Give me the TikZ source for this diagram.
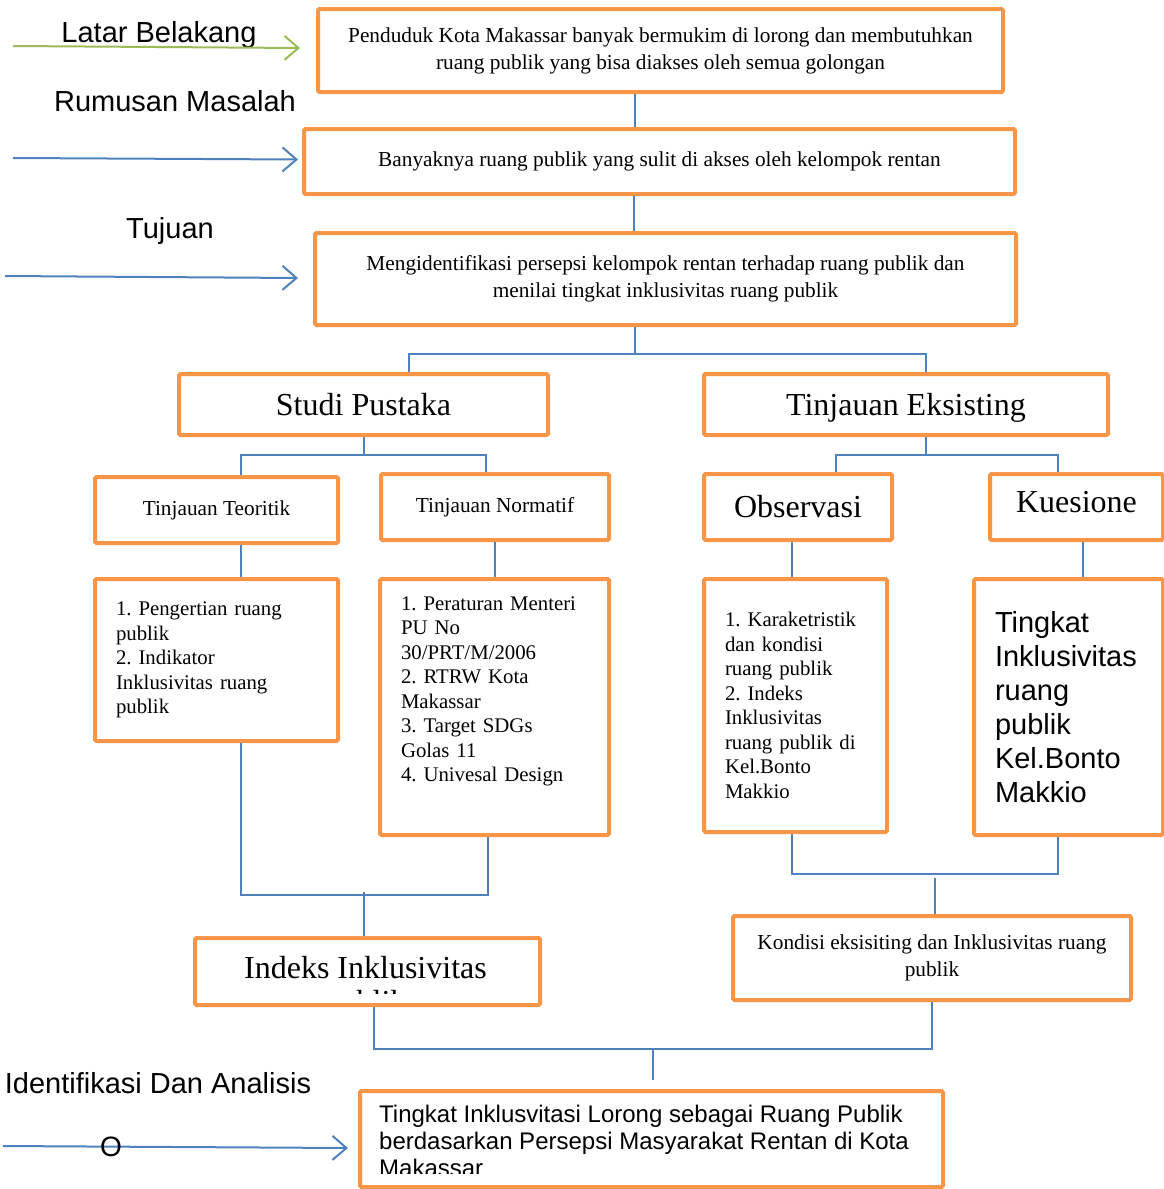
\documentclass[tikz,border=0pt]{standalone}
\usepackage{fontspec}
\setmainfont{Liberation Serif}
\setsansfont{Liberation Sans}
\usepackage{tikz}
\usetikzlibrary{arrows.meta, positioning, calc}
\definecolor{flowOrange}{HTML}{F79646}
\definecolor{flowBlue}{HTML}{4F81BD}
\definecolor{flowGreen}{HTML}{9BBB59}
\frenchspacing

\begin{document}
\begin{tikzpicture}[
  x=1pt, y=-1pt,
  box/.style={draw=flowOrange, line width=4pt, rounded corners=1.5pt, fill=white,
              anchor=north west, inner sep=0pt, align=center},
  txt/.style={font=\fontsize{21.3}{27}\selectfont},
  listtxt/.style={font=\fontsize{20.8}{24.5}\selectfont, align=left},
  big/.style={font=\fontsize{32}{34}\selectfont},
  lbl/.style={font=\sffamily\fontsize{29}{34}\selectfont, inner sep=0pt},
  link/.style={draw=flowBlue, line width=2pt},
  a/.style={-{Straight Barb[length=14pt, width=24pt]}, line width=2pt, draw=flowBlue},
  ga/.style={-{Straight Barb[length=14pt, width=24pt]}, line width=2pt, draw=flowGreen}
]
\useasboundingbox (0,0) rectangle (1163,1189);

% alur utama
\node[box, txt, minimum width=685, minimum height=83] (bg) at (316,7)
  {Penduduk Kota Makassar banyak bermukim di lorong dan membutuhkan\\ruang publik yang bisa diakses oleh semua golongan};
\node[box, txt, minimum width=711, minimum height=65] (rumusan) at (302,127)
  {Banyaknya ruang publik yang sulit di akses oleh kelompok rentan};
\node[box, txt, minimum width=701, minimum height=92] (tujuan) at (313,231)
  {Mengidentifikasi persepsi kelompok rentan terhadap ruang publik dan\\menilai tingkat inklusivitas ruang publik};

\node[box, big, minimum width=369, minimum height=61] (studi) at (177,372) {Studi Pustaka};
\node[box, big, minimum width=404, minimum height=61, text depth=0pt] (eksis) at (702,372) {Tinjauan Eksisting};

\node[box, txt, minimum width=243, minimum height=66] (teori) at (93,475) {Tinjauan Teoritik};
\node[box, txt, minimum width=228, minimum height=66] (norma) at (379,472) {Tinjauan Normatif};
\node[box, big, minimum width=188, minimum height=66] (obs) at (702,472) {Observasi};
\node[box, big, minimum width=173, minimum height=66, text depth=10pt] (kues) at (988,472) {Kuesione};

\node[box, listtxt, minimum width=243, minimum height=162, text width=201] (list1) at (93,577)
  {1. Pengertian ruang\\publik\\2. Indikator\\Inklusivitas ruang\\publik};
\node[box, listtxt, minimum width=229, minimum height=256, text width=187] (list2) at (378,577)
  {1. Peraturan Menteri\\PU No\\30/PRT/M/2006\\2. RTRW Kota\\Makassar\\3. Target SDGs\\Golas 11\\4. Univesal Design\\[11.5pt]\mbox{}};
\node[box, listtxt, minimum width=183, minimum height=253, text width=141] (list3) at (702,577)
  {1. Karaketristik\\dan kondisi\\ruang publik\\2. Indeks\\Inklusivitas\\ruang publik di\\Kel.Bonto\\Makkio};
\node[box, align=left, font=\sffamily\fontsize{29}{34}\selectfont, minimum width=189, minimum height=256, text width=147] (list4) at (972,577)
  {Tingkat\\Inklusivitas\\ruang\\publik\\Kel.Bonto\\Makkio};

\node[box, minimum width=345, minimum height=67] (indeks) at (193,936) {};
\begin{scope}
  \clip (193,936) rectangle (538,993);
  \node[big, anchor=north, align=center, inner sep=0pt] (indekstext) at (365.5,956) {Indeks Inklusivitas\\publik};
\end{scope}
\node[box, txt, minimum width=398, minimum height=84] (kondisi) at (731,914)
  {Kondisi eksisiting dan Inklusivitas ruang\\publik};

\node[box, minimum width=583, minimum height=96] (hasil) at (358,1089) {};
\begin{scope}
  \clip (358,1089) rectangle (941,1173);
  \node[font=\sffamily\fontsize{24}{27}\selectfont, anchor=north west, align=left, inner sep=0pt] (hasiltext) at (379,1105)
    {Tingkat Inklusvitasi Lorong sebagai Ruang Publik\\berdasarkan Persepsi Masyarakat Rentan di Kota\\Makassar};
\end{scope}

% garis penghubung
\draw[link] ([xshift=-26]bg.south) -- ([xshift=-26]bg.south |- rumusan.north);
\draw[link] ([xshift=-26]rumusan.south) -- ([xshift=-26]rumusan.south |- tujuan.north);
\draw[link] ([xshift=-31]tujuan.south) -- ++(0,27) -| ([xshift=45]studi.north);
\draw[link] ([xshift=-31]tujuan.south) ++(0,27) -| ([xshift=20]eksis.north);
\draw[link] (studi.south) -- ++(0,18) -| ([xshift=24]teori.north);
\draw[link] (studi.south) ++(0,18) -| ([xshift=-9]norma.north);
\draw[link] ([xshift=20]eksis.south) -- ++(0,18) -| ([xshift=38]obs.north);
\draw[link] ([xshift=20]eksis.south) ++(0,18) -| ([xshift=-19]kues.north);
\draw[link] ([xshift=24]teori.south) -- ([xshift=24]teori.south |- list1.north);
\draw[link] (norma.south) -- (norma.south |- list2.north);
\draw[link] ([xshift=-6]obs.south) -- ([xshift=-6]obs.south |- list3.north);
\draw[link] ([xshift=6]kues.south) -- ([xshift=6]kues.south |- list4.north);
\draw[link] ([xshift=24]list1.south) -- ++(0,152) -| ([xshift=-6.5]list2.south);
\draw[link] ([xshift=-3.5]indeks.north) -- ++(0,-44);
\draw[link] ([xshift=-3.5]list3.south) -- ++(0,40) -| ([xshift=-11]list4.south);
\draw[link] ([xshift=3]kondisi.north) -- ++(0,-36);
\draw[link] ([xshift=6.5]indeks.south) -- ++(0,42) -| (kondisi.south);
\draw[link] ([xshift=1.5, yshift=9]hasil.north) -- ++(0,-31);

% label kiri
\node[lbl] (latar) at (159,35) {Latar Belakang};
\node[lbl] (masalah) at (175,101) {Rumusan Masalah};
\node[lbl] (tuju) at (170,231) {Tujuan};
\node[lbl] (analisis) at (158,1083) {Identifikasi Dan Analisis};
\coordinate (latarstart) at (13,46);
\coordinate (masalahstart) at (13,158);
\coordinate (tujustart) at (5,276);
\coordinate (analisisstart) at (3,1146);
\draw[ga] (latarstart) -- ([xshift=-16, yshift=2.5]bg.west);
\draw[a] (masalahstart) -- ([xshift=-4, yshift=2]rumusan.west);
\draw[a] (tujustart) -- ([xshift=-15, yshift=1]tujuan.west);
\draw[a] (analisisstart) -- ([xshift=-10, yshift=-9]hasil.west);
\node[font=\sffamily\fontsize{28}{30}\selectfont, inner sep=0pt] (huruf) at (111,1147) {O};
\end{tikzpicture}
\end{document}
